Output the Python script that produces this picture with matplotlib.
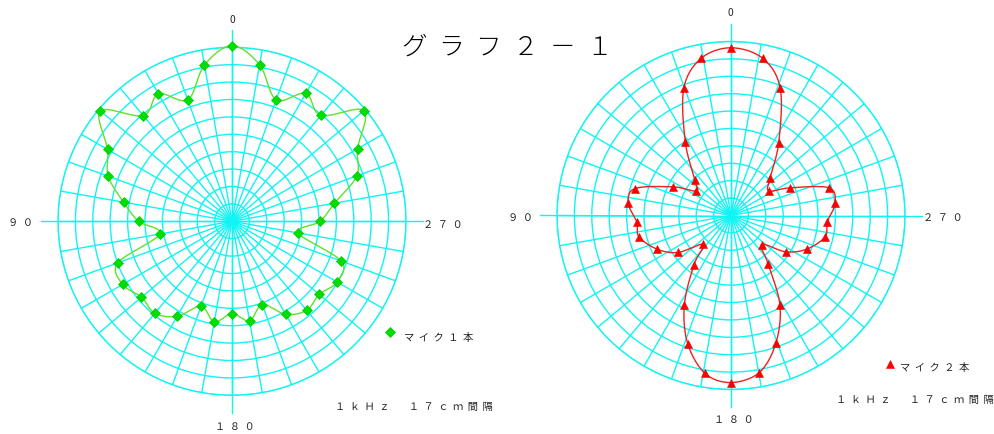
import numpy as np
import matplotlib
matplotlib.use('Agg')
import matplotlib.pyplot as plt
from matplotlib.lines import Line2D

plt.rcParams['font.family'] = ['Noto Sans CJK JP', 'DejaVu Sans']

# ---------------- data ----------------
title_text = "グ  ラ  フ  ２  －  １"
mic1_label = "マ  イ  ク  １  本"
mic2_label = "マ  イ  ク  ２  本"
note_text = "１  ｋ  Ｈ  ｚ  　  １  ７  ｃ  ｍ  間  隔"
label_0 = "0"
label_90 = "９  ０"
label_180 = "１  ８  ０"
label_270 = "２  ７  ０"

mic1_angles = list(range(0, 360, 10))
mic1_levels = [10.1, 9.12, 7.43, 8.46, 7.93, 9.87, 8.26, 7.57, 6.33, 5.37,
               4.22, 6.99, 7.26, 6.79, 6.90, 6.31, 5.20, 5.87, 5.31, 5.81,
               5.10, 6.17, 6.68, 6.54, 6.98, 6.68, 3.88, 5.06, 5.98, 7.63,
               8.33, 9.90, 7.95, 8.49, 7.43, 9.13]

mic2_angles = [0, 10.8, 20.4, 32, 45.6, 54.8, 63.6, 74.3, 83.3, 93.8,
               103, 114.6, 125, 136.3, 143, 152.5, 161.3, 170.7, 180, 190.2,
               199.3, 208.6, 217.3, 226.6, 236.4, 246, 257.2, 266.3, 276.6, 285.8,
               295.1, 303, 313.5, 326.8, 338.8, 348.5]
mic2_levels = [9.64, 9.19, 7.79, 4.95, 2.90, 2.46, 3.70, 5.73, 5.94, 5.43,
               5.43, 4.66, 3.70, 2.30, 3.53, 5.81, 7.77, 9.20, 9.60, 9.17,
               7.79, 5.88, 3.54, 2.43, 3.77, 4.76, 5.54, 5.55, 6.02, 5.85,
               3.75, 2.60, 3.09, 5.01, 7.83, 9.21]

ring_levels = list(range(1, 11))
spoke_angles = list(range(0, 360, 10))
r_max = 10

# ---------------- layout ----------------
W, H = 994, 435
GRID = '#10f4f4'
TXT = '#222222'


def fx(x):
    return x / W


def fy(y):
    return 1 - y / H


def smooth_closed(theta_deg, r, n=24):
    th = np.deg2rad(np.asarray(theta_deg, float))
    r = np.asarray(r, float)
    P = np.stack([r * np.cos(th), r * np.sin(th)], 1)
    N = len(P)
    t = np.linspace(0, 1, n, endpoint=False)[:, None]
    out = []
    for i in range(N):
        p0, p1, p2, p3 = P[(i - 1) % N], P[i], P[(i + 1) % N], P[(i + 2) % N]
        seg = 0.5 * (2 * p1 + (-p0 + p2) * t + (2 * p0 - 5 * p1 + 4 * p2 - p3) * t ** 2
                     + (-p0 + 3 * p1 - 3 * p2 + p3) * t ** 3)
        out.append(seg)
    out.append(P[:1])
    Q = np.vstack(out)
    ang = np.unwrap(np.arctan2(Q[:, 1], Q[:, 0]))
    return ang, np.hypot(Q[:, 0], Q[:, 1])


fig = plt.figure(figsize=(W / 100, H / 100), dpi=100)
fig.patch.set_facecolor('white')

R = 174


def make_polar(cx, cy):
    ax = fig.add_axes([fx(cx - R), fy(cy + R), 2 * R / W, 2 * R / H], projection='polar')
    ax.set_theta_zero_location('N')
    ax.set_theta_direction(1)
    ax.set_ylim(0, r_max)
    ax.set_yticks(ring_levels)
    ax.set_yticklabels([])
    ax.set_xticks(np.deg2rad(spoke_angles))
    ax.set_xticklabels([])
    ax.tick_params(length=0)
    ax.grid(True, color=GRID, lw=1.0)
    ax.spines['polar'].set_color(GRID)
    ax.spines['polar'].set_linewidth(1.0)
    ax.set_facecolor('white')
    for a in (0, 90, 180, 270):
        t = np.deg2rad(a)
        ax.plot([t, t], [0, 11.0], color=GRID, lw=1.0, clip_on=False, zorder=1)
    return ax


axL = make_polar(232, 222.3)
axR = make_polar(731, 216.5)

# series 1
a, r = smooth_closed(mic1_angles, mic1_levels)
axL.plot(a, r, color='#5ee22c', lw=1.0, zorder=3, clip_on=False)
axL.plot(np.deg2rad(mic1_angles), mic1_levels, ls='none', marker='D', ms=4.6,
         color='#00dd00', mec='#00cc00', mew=0.5, zorder=4, clip_on=False)

# series 2
a, r = smooth_closed(mic2_angles, mic2_levels)
axR.plot(a, r, color='#ee2020', lw=1.0, zorder=3, clip_on=False)
axR.plot(np.deg2rad(mic2_angles), mic2_levels, ls='none', marker='^', ms=6.2,
         color='#ff0000', mec='#ee0000', mew=0.4, zorder=4, clip_on=False)

# texts
fs = 7.4
fig.text(fx(507), fy(47.5), title_text, fontsize=18.5, fontweight='light',
         ha='center', va='center', color='black')

for (cx0, y0), s in [((232, 20), label_0), ((20.2, 223), label_90),
                     ((443, 224.7), label_270), ((234.7, 426.7), label_180),
                     ((730, 13.3), label_0), ((520.2, 217.7), label_90),
                     ((942.6, 218.3), label_270), ((733.7, 420), label_180)]:
    fig.text(fx(cx0), fy(y0), s, fontsize=fs, ha='center', va='center', color=TXT)

fig.add_artist(Line2D([fx(390)], [fy(333.3)], transform=fig.transFigure, ls='none',
                      marker='D', ms=4.6, color='#00dd00', mec='#00cc00', mew=0.5))
fig.text(fx(439), fy(337.7), mic1_label, fontsize=fs, ha='center', va='center', color=TXT)

fig.add_artist(Line2D([fx(890)], [fy(365)], transform=fig.transFigure, ls='none',
                      marker='^', ms=6.2, color='#ff0000', mec='#ee0000', mew=0.4))
fig.text(fx(935), fy(368), mic2_label, fontsize=fs, ha='center', va='center', color=TXT)

fig.text(fx(414), fy(407), note_text, fontsize=fs, ha='center', va='center', color=TXT)
fig.text(fx(915), fy(400), note_text, fontsize=fs, ha='center', va='center', color=TXT)

fig.savefig('out.png', dpi=100, facecolor='white')
